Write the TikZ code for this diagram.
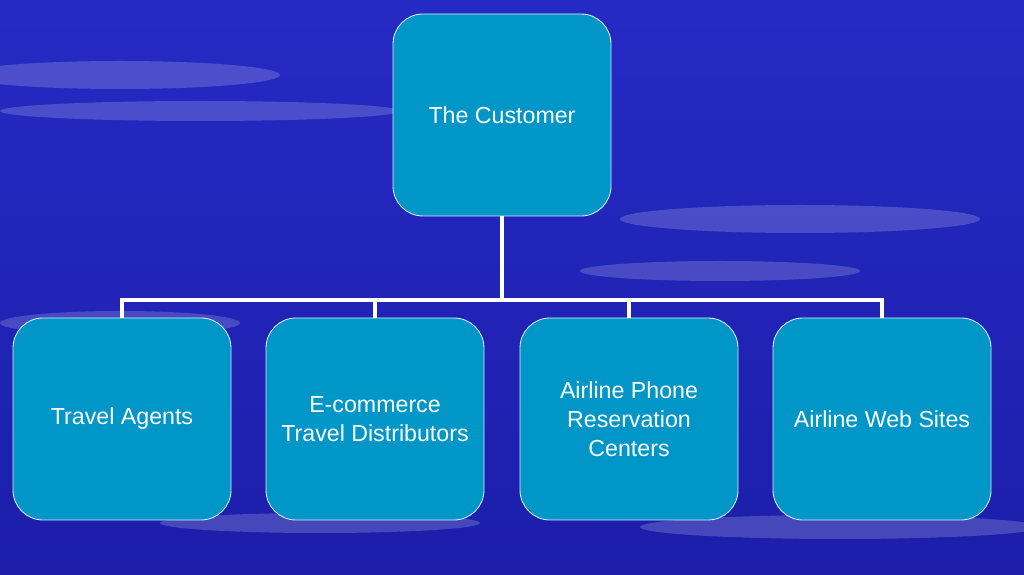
\documentclass[tikz,border=0pt]{standalone}
\usepackage{fontspec}
\setmainfont{Liberation Sans}
\usetikzlibrary{positioning}
\definecolor{skyblue}{RGB}{38,42,196}
\definecolor{skydark}{RGB}{28,30,170}
\definecolor{boxblue}{RGB}{0,150,200}
\tikzset{
  box/.style={draw=white!85!boxblue, line width=0.6pt, fill=boxblue, rounded corners=0.75cm,
    minimum width=5.45cm, minimum height=5.05cm, align=center, text=white,
    font=\fontsize{16.5}{20.5}\selectfont},
  link/.style={draw=white, line width=2.2pt}
}
\begin{document}
\begin{tikzpicture}
  % background
  \fill[top color=skyblue, bottom color=skydark] (0,0) rectangle (25.6,14.375);
  \useasboundingbox (0,0) rectangle (25.6,14.375);
  \begin{scope}[fill=white, opacity=0.18]
    \fill (3,12.5) ellipse (4cm and 0.35cm);
    \fill (5,11.6) ellipse (5cm and 0.25cm);
    \fill (20,8.9) ellipse (4.5cm and 0.35cm);
    \fill (18,7.6) ellipse (3.5cm and 0.25cm);
    \fill (3,6.3) ellipse (3cm and 0.3cm);
    \fill (21,1.2) ellipse (5cm and 0.3cm);
    \fill (8,1.3) ellipse (4cm and 0.25cm);
  \end{scope}

  \node[box] (cust) at (12.55,11.5) {The Customer};
  \node[box] (agents) at (3.05,3.9) {Travel Agents};
  \node[box] (ecom) at (9.375,3.9) {E-commerce\\Travel Distributors};
  \node[box] (phone) at (15.725,3.9) {Airline Phone\\Reservation\\Centers};
  \node[box] (web) at (22.05,3.9) {Airline Web Sites};

  \coordinate (bus) at (12.55,6.875);
  \draw[link] (cust.south) -- (bus);
  \draw[link] (agents.north) |- (bus) -| (web.north);
  \draw[link] (ecom.north) -- (ecom.north |- bus);
  \draw[link] (phone.north) -- (phone.north |- bus);
\end{tikzpicture}
\end{document}
